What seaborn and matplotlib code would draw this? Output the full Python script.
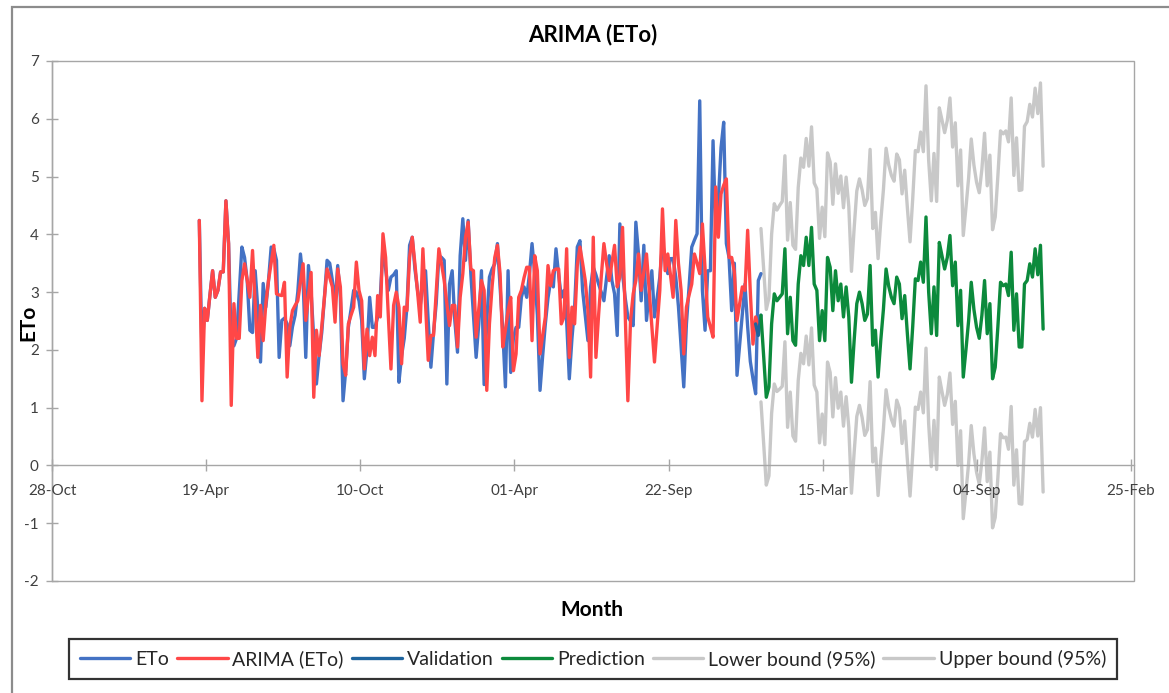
import matplotlib
matplotlib.use("Agg")
import matplotlib.pyplot as plt
import matplotlib.dates as mdates
from matplotlib.patches import Rectangle
import pandas as pd
import seaborn as sns

# Observed reference evapotranspiration (mm/day), one value every 3 days
eto = [
    4.24, 1.95, 2.72, 2.51, 2.95, 3.37, 2.91, 3.03, 3.35, 3.35,
    4.58, 3.84, 2.10, 2.07, 2.20, 3.00, 3.78, 3.60, 3.20, 2.34,
    2.30, 3.37, 2.70, 1.79, 3.15, 2.74, 3.20, 3.78, 3.75, 3.55,
    1.87, 2.51, 2.55, 2.45, 2.07, 2.40, 2.60, 3.00, 3.66, 3.20,
    1.87, 3.46, 3.00, 2.20, 1.41, 1.90, 2.30, 2.90, 3.55, 3.50,
    3.20, 2.80, 3.46, 2.91, 1.12, 1.64, 2.39, 2.70, 3.03, 3.00,
    2.85, 2.51, 1.50, 2.00, 2.91, 2.39, 2.39, 2.57, 2.91, 3.81,
    3.40, 3.03, 3.26, 3.30, 3.37, 1.44, 1.90, 2.20, 2.74, 3.81,
    3.95, 3.40, 3.03, 2.77, 3.10, 3.37, 2.50, 1.70, 2.30, 2.80,
    3.63, 3.60, 3.55, 1.41, 3.14, 3.37, 2.50, 1.96, 3.63, 4.27,
    3.55, 4.24, 3.32, 2.60, 1.87, 2.45, 3.37, 1.40, 2.50, 3.26,
    3.40, 3.49, 3.84, 3.10, 2.34, 1.36, 3.37, 1.61, 2.20, 2.39,
    2.39, 2.91, 3.09, 2.91, 3.30, 3.84, 3.32, 2.60, 1.30, 1.90,
    2.45, 2.90, 3.20, 3.09, 3.75, 3.30, 2.91, 3.03, 2.50, 1.50,
    2.20, 2.74, 3.78, 3.89, 3.03, 2.60, 2.16, 3.09, 3.43, 3.30,
    3.14, 3.00, 2.85, 3.25, 3.63, 3.20, 2.97, 2.25, 4.18, 3.32,
    2.90, 2.57, 2.50, 2.42, 4.21, 3.66, 2.85, 3.81, 2.51, 3.00,
    3.37, 2.57, 2.90, 3.26, 3.84, 3.60, 3.32, 3.58, 3.58, 3.26,
    2.75, 2.05, 1.36, 2.45, 3.10, 3.78, 3.90, 4.01, 6.31, 3.03,
    2.34, 3.37, 3.37, 5.62, 4.07, 4.60, 5.50, 5.94, 3.84, 3.60,
    2.68, 3.50, 1.56, 2.10, 2.62, 3.14, 2.40, 1.80, 1.50, 1.24,
    3.20, 3.32,
]

# In-sample ARIMA fitted values on the same dates
arima_fit = [
    4.24, 1.12, 2.72, 2.51, 2.95, 3.37, 2.91, 3.03, 3.35, 3.35,
    4.58, 3.84, 1.04, 2.80, 2.20, 2.20, 3.20, 3.49, 3.20, 2.91,
    3.72, 2.80, 1.87, 2.77, 2.16, 2.80, 3.20, 3.50, 3.81, 2.97,
    2.95, 2.94, 3.17, 1.53, 2.39, 2.68, 2.77, 2.85, 3.17, 3.49,
    2.51, 2.93, 3.34, 1.18, 2.34, 1.90, 2.40, 2.91, 3.40, 3.25,
    3.09, 2.48, 3.40, 3.09, 1.76, 1.56, 2.45, 2.60, 2.74, 3.52,
    3.03, 2.85, 1.67, 2.36, 1.90, 2.22, 1.90, 2.94, 2.57, 4.01,
    3.60, 2.60, 1.67, 2.77, 3.00, 2.74, 1.76, 2.74, 2.68, 3.60,
    3.95, 3.49, 3.00, 2.48, 3.75, 2.80, 1.82, 2.25, 2.25, 3.00,
    3.75, 3.49, 3.20, 2.80, 2.42, 2.77, 2.77, 2.05, 2.91, 3.32,
    3.95, 4.21, 3.40, 3.37, 2.22, 2.70, 3.20, 3.03, 1.30, 2.45,
    3.10, 3.60, 3.81, 3.32, 2.05, 2.35, 2.68, 2.91, 1.64, 1.93,
    2.91, 3.03, 3.25, 3.43, 3.43, 2.16, 3.63, 3.37, 1.93, 2.25,
    2.57, 3.46, 3.11, 3.37, 3.40, 3.40, 2.45, 2.57, 3.75, 1.87,
    2.74, 2.45, 3.46, 3.78, 3.50, 3.20, 2.68, 1.53, 3.95, 1.87,
    2.60, 3.26, 3.84, 3.50, 3.20, 3.50, 3.81, 3.09, 3.26, 4.12,
    2.60, 1.12, 2.51, 2.97, 3.20, 3.66, 3.03, 3.35, 3.66, 3.03,
    2.40, 1.79, 2.40, 3.03, 4.44, 3.37, 3.66, 3.30, 2.91, 4.24,
    3.50, 3.03, 1.93, 2.74, 2.95, 3.14, 3.66, 3.50, 3.32, 4.18,
    3.40, 2.57, 2.40, 2.22, 4.82, 3.95, 4.70, 4.85, 4.96, 3.60,
    3.60, 3.35, 2.51, 2.80, 3.09, 3.03, 4.07, 3.00, 2.10, 2.57,
    2.40,
]

# Hold-out validation segment (starts at observation index 209)
validation_start = 209
validation = [2.45, 2.25, 2.60]

# Out-of-sample forecast, continuing the 3-day grid after the last observation
prediction = [
    2.60, 1.90, 1.18, 1.36, 2.45, 2.97, 2.85, 2.91, 2.97, 3.75,
    2.28, 2.91, 2.16, 2.08, 3.14, 3.63, 3.46, 3.95, 3.46, 4.12,
    3.14, 3.03, 2.16, 2.68, 2.16, 3.60, 3.43, 2.68, 3.37, 2.85,
    3.14, 2.57, 3.09, 2.57, 1.44, 2.16, 2.80, 3.00, 2.80, 2.51,
    2.62, 3.46, 2.08, 2.34, 1.53, 2.16, 2.70, 3.40, 3.10, 2.91,
    2.80, 3.26, 3.14, 2.54, 2.94, 2.28, 1.67, 2.40, 3.23, 3.20,
    3.52, 3.17, 4.30, 3.00, 2.28, 3.09, 2.25, 3.86, 3.63, 3.40,
    3.60, 3.98, 3.11, 3.52, 2.42, 3.03, 1.53, 2.00, 2.50, 3.17,
    2.70, 2.39, 2.20, 2.60, 3.20, 2.28, 2.80, 1.50, 1.70, 2.40,
    3.17, 3.11, 3.14, 2.94, 3.69, 2.34, 2.97, 2.05, 2.05, 3.14,
    3.20, 3.49, 3.26, 3.75, 3.30, 3.81, 2.36,
]

lower_95 = [
    1.10, 0.39, -0.34, -0.18, 0.90, 1.41, 1.28, 1.32, 1.37, 2.14,
    0.66, 1.27, 0.51, 0.42, 1.47, 1.94, 1.76, 2.24, 1.74, 2.38,
    1.39, 1.27, 0.39, 0.89, 0.36, 1.79, 1.61, 0.84, 1.52, 0.99,
    1.27, 0.68, 1.19, 0.66, -0.48, 0.22, 0.85, 1.04, 0.83, 0.52,
    0.62, 1.45, 0.06, 0.30, -0.52, 0.10, 0.63, 1.31, 1.00, 0.80,
    0.68, 1.13, 0.99, 0.38, 0.77, 0.10, -0.53, 0.19, 1.01, 0.97,
    1.27, 0.91, 2.03, 0.72, -0.02, 0.78, -0.07, 1.53, 1.28, 1.04,
    1.23, 1.60, 0.71, 1.11, 0.00, 0.60, -0.92, -0.46, 0.03, 0.69,
    0.20, -0.12, -0.32, 0.07, 0.65, -0.28, 0.23, -1.08, -0.90, -0.21,
    0.55, 0.48, 0.49, 0.28, 1.02, -0.34, 0.27, -0.66, -0.67, 0.41,
    0.45, 0.73, 0.49, 0.97, 0.51, 1.00, -0.46,
]

upper_95 = [
    4.10, 3.41, 2.70, 2.90, 4.00, 4.53, 4.42, 4.50, 4.57, 5.36,
    3.90, 4.55, 3.81, 3.74, 4.81, 5.32, 5.16, 5.66, 5.18, 5.86,
    4.89, 4.79, 3.93, 4.47, 3.96, 5.41, 5.25, 4.52, 5.22, 4.71,
    5.01, 4.46, 4.99, 4.48, 3.36, 4.10, 4.75, 4.96, 4.77, 4.50,
    4.62, 5.47, 4.10, 4.38, 3.58, 4.22, 4.77, 5.49, 5.20, 5.02,
    4.92, 5.39, 5.29, 4.70, 5.11, 4.46, 3.87, 4.61, 5.45, 5.43,
    5.77, 5.43, 6.57, 5.28, 4.58, 5.40, 4.57, 6.19, 5.98, 5.76,
    5.97, 6.36, 5.51, 5.93, 4.84, 5.46, 3.98, 4.46, 4.97, 5.65,
    5.20, 4.90, 4.72, 5.13, 5.75, 4.84, 5.37, 4.08, 4.30, 5.01,
    5.79, 5.74, 5.79, 5.60, 6.36, 5.02, 5.67, 4.76, 4.77, 5.87,
    5.95, 6.25, 6.03, 6.53, 6.09, 6.62, 5.18,
]

axis_ticks = ["2014-10-28", "2015-04-19", "2015-10-10", "2016-04-01",
              "2016-09-22", "2017-03-15", "2017-09-04", "2018-02-25"]

# ---------------------------------------------------------------- dates
obs_dates = pd.date_range("2015-04-12", periods=len(eto), freq="3D")
fit_dates = obs_dates[:len(arima_fit)]
val_dates = obs_dates[validation_start:validation_start + len(validation)]
pred_dates = pd.date_range(obs_dates[-1], periods=len(prediction), freq="3D")

# ---------------------------------------------------------------- styling
sns.set_theme(style="white")
plt.rcParams["font.family"] = ["Lato", "DejaVu Sans"]
plt.rcParams["axes.unicode_minus"] = False

W, H = 1169, 693
fig = plt.figure(figsize=(W / 100, H / 100), dpi=100)
fig.patch.set_facecolor("white")

# outer chart-area frame (runs off the right and bottom edges)
fig.add_artist(Rectangle((12 / W, -0.05), 1.2, 1 - 7 / H + 0.05,
                         transform=fig.transFigure, fill=False,
                         edgecolor="#8C8C8C", linewidth=1.6))

left, right, top, bottom = 52, 1134, 61, 581
ax = fig.add_axes([left / W, 1 - bottom / H, (right - left) / W, (bottom - top) / H])
ax.set_facecolor("white")

LW = 2.4
sns.lineplot(x=obs_dates, y=eto, ax=ax, color="#4472C4", linewidth=LW, label="ETo")
sns.lineplot(x=fit_dates, y=arima_fit, ax=ax, color="#FF4747", linewidth=LW, label="ARIMA (ETo)")
sns.lineplot(x=val_dates, y=validation, ax=ax, color="#1F649E", linewidth=LW, label="Validation")
sns.lineplot(x=pred_dates, y=prediction, ax=ax, color="#0C8A3C", linewidth=LW, label="Prediction")
sns.lineplot(x=pred_dates, y=lower_95, ax=ax, color="#C8C8C8", linewidth=LW, label="Lower bound (95%)")
sns.lineplot(x=pred_dates, y=upper_95, ax=ax, color="#C8C8C8", linewidth=LW, label="Upper bound (95%)")

# bounds sit underneath the forecast
for ln in ax.lines[4:6]:
    ln.set_zorder(1.5)
for ln in ax.lines[:4]:
    ln.set_zorder(2.5)
ax.lines[3].set_zorder(2.6)

# axes
ax.set_ylim(-2, 7)
ax.set_yticks(range(-2, 8))
ax.set_xlim(pd.Timestamp("2014-10-28"), pd.Timestamp("2018-02-28 10:00"))
ax.set_xticks(pd.to_datetime(axis_ticks))
ax.xaxis.set_major_formatter(mdates.DateFormatter("%d-%b"))

axis_grey = "#A6A6A6"
for side in ["top", "right"]:
    ax.spines[side].set_visible(False)
ax.spines["left"].set_color(axis_grey)
ax.spines["left"].set_linewidth(1.0)
ax.spines["bottom"].set_position(("data", 0))
ax.spines["bottom"].set_color(axis_grey)
ax.spines["bottom"].set_linewidth(1.0)
ax.add_patch(Rectangle((0, 0), 1, 1, transform=ax.transAxes, fill=False,
                       edgecolor=axis_grey, linewidth=1.0, clip_on=False, zorder=0.5))

ax.tick_params(axis="y", direction="inout", length=9, width=1, color=axis_grey,
               labelsize=11, labelcolor="#404040", pad=5, left=True)
ax.tick_params(axis="x", direction="inout", length=9, width=1, color=axis_grey,
               labelsize=11, labelcolor="#404040", pad=9, bottom=True)
ax.grid(False)
# date labels stay readable where the forecast band crosses them
ax.xaxis.set_zorder(3)

ax.set_title("ARIMA (ETo)", fontsize=16, fontweight="bold", color="black",
             y=1 + (top - 43) / (bottom - top), va="center")

ax.set_xlabel("Month", fontsize=15, fontweight="bold", color="black", va="center")
ax.xaxis.set_label_coords((592 - left) / (right - left), 1 - (610 - top) / (bottom - top))
ax.set_ylabel("ETo", fontsize=15, fontweight="bold", color="black", va="center")
ax.yaxis.set_label_coords((28 - left) / (right - left), 1 - (323 - top) / (bottom - top))

handles, labels = ax.get_legend_handles_labels()
leg = ax.legend(handles, labels, loc="center", ncol=6,
                bbox_to_anchor=(593 / W, 1 - 659 / H), bbox_transform=fig.transFigure,
                frameon=True, fancybox=False, fontsize=14, handlelength=2.6,
                handletextpad=0.25, columnspacing=0.4, borderpad=0.55)
leg.get_frame().set_edgecolor("black")
leg.get_frame().set_linewidth(1.6)
for t in leg.get_texts():
    t.set_color("#262626")

fig.savefig("out.png", dpi=100, facecolor="white")
